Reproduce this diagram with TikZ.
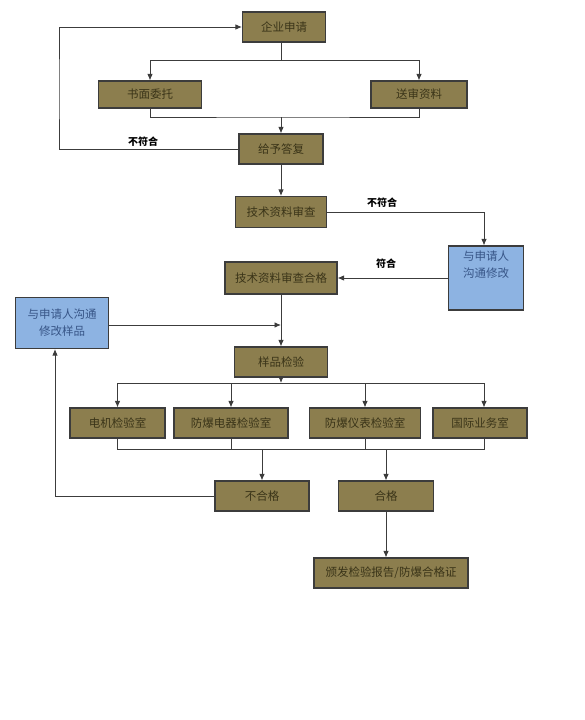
\documentclass[tikz,border=0pt]{standalone}
\usepackage{fontspec}
\setmainfont{Noto Sans CJK SC}
\usepackage{xcolor}
\usetikzlibrary{shapes}
\usetikzlibrary{arrows.meta}
\definecolor{olivebox}{RGB}{140,126,78}
\definecolor{olivetext}{RGB}{58,52,24}
\definecolor{bluebox}{RGB}{141,179,226}
\definecolor{bluetext}{RGB}{55,85,135}
\definecolor{linegray}{RGB}{60,60,60}
\tikzset{stepbox/.style={draw=linegray, line width=1.1pt, fill=olivebox, text=olivetext, font=\fontsize{11.5}{14}\selectfont, minimum width=#1, minimum height=30pt, inner sep=0pt}, stepbox/.default={94pt}}
\tikzset{talkbox/.style={draw=linegray, line width=1.1pt, fill=bluebox, text=bluetext, font=\fontsize{11.5}{17}\selectfont, align=center, inner sep=0pt}}
\tikzset{talktext/.style={text=bluetext, font=\fontsize{11.5}{17}\selectfont, align=center, inner sep=0pt}}
\tikzset{arr/.style={draw=linegray, line width=0.9pt, -{Latex[length=6.5pt, width=5.5pt]}}, ln/.style={draw=linegray, line width=0.9pt}}
\tikzset{lab/.style={font=\bfseries\fontsize{10}{12}\selectfont, text=black}}

\begin{document}
\begin{tikzpicture}[x=1pt, y=-1pt]
\useasboundingbox (0,0) rectangle (584,720);
 \node[stepbox=83pt] (qy) at (284, 27) {企业申请};
 \node[stepbox=103pt, minimum height=27pt] (smwt) at (150, 94.5) {书面委托};
 \node[stepbox=96pt, minimum height=27pt] (sszl) at (419, 94.5) {送审资料};
 \node[stepbox=84pt] (gydf) at (281, 149) {给予答复};
 \node[stepbox=91pt, minimum height=31pt] (jsc) at (281, 212) {技术资料审查};
 \node[stepbox=112pt, minimum height=32pt] (jshg) at (281, 278) {技术资料审查合格};
 \node[talkbox, minimum width=75pt, minimum height=64pt] (gtxg) at (486, 278) {};
 \node[talktext, anchor=north] (gtxgt) at ([yshift=-5pt]gtxg.north) {与申请人\\沟通修改};
 \node[talkbox, minimum width=93pt, minimum height=51pt] (gtyp) at (62, 323) {与申请人沟通\\修改样品};
 \node[stepbox=93pt] (ypjy) at (281, 362) {样品检验};
 \node[stepbox=95pt] (djs) at (117.5, 423) {电机检验室};
 \node[stepbox=114pt] (dqs) at (231, 423) {防爆电器检验室};
 \node[stepbox=111pt] (ybs) at (365, 423) {防爆仪表检验室};
 \node[stepbox=94pt] (gjs) at (480, 423) {国际业务室};
 \node[stepbox=94pt] (bhg) at (262, 496) {不合格};
 \node[stepbox=95pt] (hg) at (386, 496) {合格};
 \node[stepbox=154pt] (bf) at (391, 573) {颁发检验报告/防爆合格证};
 \coordinate (fk1) at (281, 60);
 \coordinate (fk2) at (281, 117);
 \coordinate (fk3) at (59, 90);
 \coordinate (fk4) at (281, 383);
 \coordinate (fk5) at (281, 449);
 \draw[ln] (qy.south -| gydf.north) -- (fk1);
 \draw[arr] (fk1) -| (smwt.north);
 \draw[arr] (fk1) -| (sszl.north);
 \draw[ln] (smwt.south) |- (fk2) -| (sszl.south);
 \draw[arr] (fk2) -- (gydf.north);
 \draw[arr] (gydf.west) -| (fk3) |- (qy.west);
 \node[lab] (l1) at (143, 142) {不符合};
 \draw[arr] (gydf.south) -- (jsc.north);
 \draw[arr] (jsc.east) -| ([xshift=-2pt]gtxg.north);
 \node[lab] (l2) at (382, 203) {不符合};
 \draw[arr] (gtxg.west) -- (jshg.east);
 \node[lab] (l3) at (386, 264) {符合};
 \draw[arr] (jshg.south) -- (ypjy.north);
 \draw[arr] ([yshift=-2pt]gtyp.east) -- ([yshift=-2pt]gtyp.east -| jshg.south);
 \draw[arr] (ypjy.south) -- (fk4);
 \draw[arr] (fk4) -| (djs.north);
 \draw[arr] (fk4) -| (dqs.north);
 \draw[arr] (fk4) -| (ybs.north);
 \draw[arr] (fk4) -| ([xshift=4pt]gjs.north);
 \draw[ln] (djs.south) |- ([xshift=4pt]gjs.south |- fk5) -- ([xshift=4pt]gjs.south);
 \draw[ln] (dqs.south) -- (dqs.south |- fk5);
 \draw[ln] (ybs.south) -- (ybs.south |- fk5);
 \draw[arr] (bhg.north |- fk5) -- (bhg.north);
 \draw[arr] (hg.north |- fk5) -- (hg.north);
 \draw[arr] (bhg.west) -| ([xshift=-7pt]gtyp.south);
 \draw[arr] (hg.south) -- (hg.south |- bf.north);
\end{tikzpicture}
\end{document}
